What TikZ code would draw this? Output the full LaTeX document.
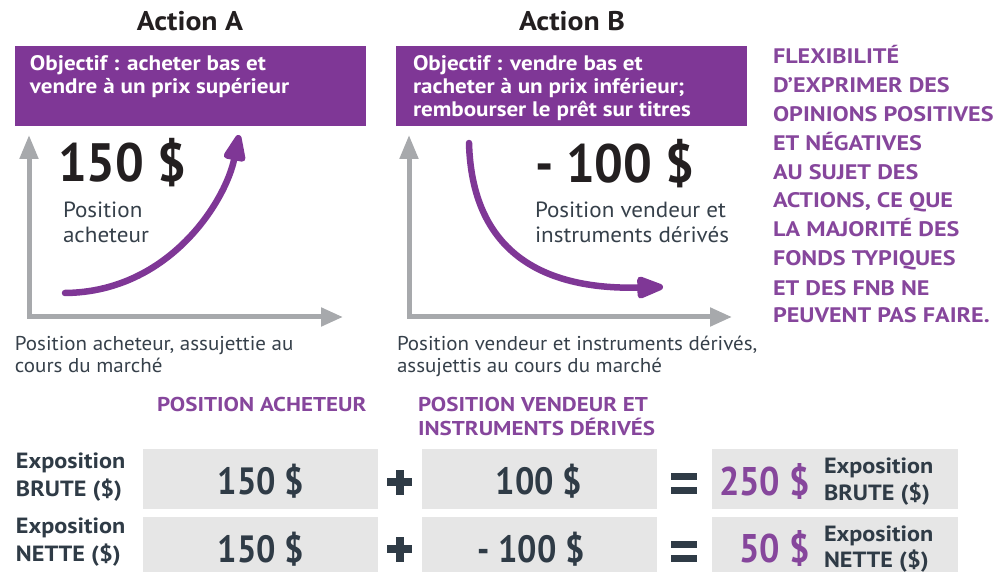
\documentclass[tikz,border=0pt]{standalone}
\usepackage{fontspec}
\setmainfont{PT Sans}
\newfontfamily\sA[FakeStretch=0.90]{PT Sans}
\newfontfamily\sB[FakeStretch=0.94]{PT Sans}
\newfontfamily\sC[FakeStretch=1.05]{PT Sans}
\newfontfamily\sD[FakeStretch=1.10]{PT Sans}
\newfontfamily\sE[FakeStretch=1.15]{PT Sans}
\usetikzlibrary{arrows.meta}
\definecolor{purp}{HTML}{7F3796}
\definecolor{purtxt}{HTML}{86469C}
\definecolor{axisgray}{HTML}{A7A9AC}
\definecolor{boxgray}{HTML}{E6E6E6}
\definecolor{slate}{HTML}{2F3B46}
\definecolor{ink}{HTML}{231F20}
\definecolor{txt}{HTML}{36404A}
\begin{document}
\begin{tikzpicture}[x=1pt,y=-1pt,
  lbl/.style={anchor=base west, inner sep=0pt, outer sep=0pt},
  title/.style={anchor=base, inner sep=0pt, text=ink, font=\sD\bfseries\fontsize{27}{30}\selectfont},
  boxtxt/.style={lbl, text=white, font=\sD\bfseries\fontsize{21}{24}\selectfont},
  bignum/.style={lbl, text=ink, font=\sB\bfseries\fontsize{54}{60}\selectfont},
  postxt/.style={lbl, text=txt, font=\sC\fontsize{22}{26}\selectfont},
  captxt/.style={lbl, text=txt, font=\sC\fontsize{20}{24}\selectfont},
  flextxt/.style={lbl, text=purtxt, font=\sE\bfseries\fontsize{21}{24}\selectfont},
  headtxt/.style={lbl, text=purtxt, font=\sE\bfseries\fontsize{20}{24}\selectfont},
  rowtxt/.style={lbl, text=slate, font=\sD\bfseries\fontsize{22}{24}\selectfont},
  cellnum/.style={anchor=base, inner sep=0pt, text=slate, font=\sA\bfseries\fontsize{38}{42}\selectfont},
  resnum/.style={anchor=base east, inner sep=0pt, text=purtxt, font=\sA\bfseries\fontsize{40}{44}\selectfont},
  purplebox/.style={anchor=north west, fill=purp, inner sep=0pt, minimum height=80pt},
  graybox/.style={anchor=north west, fill=boxgray, inner sep=0pt},
  axis/.style={draw=axisgray, line width=5pt, {Triangle[length=24pt,width=18pt]}-{Triangle[length=22pt,width=18pt]}},
  trend/.style={draw=purp, line width=6.5pt, line cap=round, -{Triangle[length=32pt,width=23pt,round=false]}},
  opbar/.style={fill=slate}
]
\useasboundingbox (0,0) rectangle (994,572);

% titles
\node[title] (titleA) at (190,31) {Action A};
\node[title] (titleB) at (572,31) {Action B};

% purple boxes
\node[purplebox, minimum width=351pt] (boxA) at (15,46) {};
\node[purplebox, minimum width=351pt] (boxB) at (396,46) {};
\node[boxtxt] (bA1) at (30,71) {Objectif : acheter bas et};
\node[boxtxt] (bA2) at (30,94) {vendre à un prix supérieur};
\node[boxtxt] (bB1) at (413,71) {Objectif : vendre bas et};
\node[boxtxt] (bB2) at (413,94) {racheter à un prix inférieur;};
\node[boxtxt] (bB3) at (413,117) {rembourser le prêt sur titres};

% axes
\coordinate (aTop) at (29,135);
\coordinate (aCorner) at (29,317);
\coordinate (aRight) at (343,317);
\coordinate (bTop) at (409,135);
\coordinate (bCorner) at (409,317);
\coordinate (bRight) at (732,317);
\draw[axis] (aTop) -- (aCorner) -- (aRight);
\draw[axis] (bTop) -- (bCorner) -- (bRight);

% trend curves
\coordinate (cAs) at (65,293);
\coordinate (cAe) at (239,135);
\coordinate (cBs) at (469,143);
\coordinate (cBe) at (663,287);
\draw[trend] (cAs) .. controls (170,292) and (226,200) .. (cAe);
\draw[trend] (cBs) .. controls (472,250) and (540,290) .. (cBe);

% big numbers and labels
\node[bignum] (numA) at (58,182) {150 \$};
\node[bignum] (numB) at (535,183) {- 100 \$};
\node[postxt] (pA1) at (63,218) {Position};
\node[postxt] (pA2) at (63,243) {acheteur};
\node[postxt] (pB1) at (535,218) {Position vendeur et};
\node[postxt] (pB2) at (535,243) {instruments dérivés};

% captions
\node[captxt] (capA1) at (15,350) {Position acheteur, assujettie au};
\node[captxt] (capA2) at (15,372) {cours du marché};
\node[captxt] (capB1) at (397,350) {Position vendeur et instruments dérivés,};
\node[captxt] (capB2) at (397,372) {assujettis au cours du marché};

% right text
\node[flextxt] (f1) at (773,64) {FLEXIBILITÉ};
\node[flextxt] (f2) at (773,93) {D’EXPRIMER DES};
\node[flextxt] (f3) at (773,122) {OPINIONS POSITIVES};
\node[flextxt] (f4) at (773,151) {ET NÉGATIVES};
\node[flextxt] (f5) at (773,180) {AU SUJET DES};
\node[flextxt] (f6) at (773,208) {ACTIONS, CE QUE};
\node[flextxt] (f7) at (773,237) {LA MAJORITÉ DES};
\node[flextxt] (f8) at (773,266) {FONDS TYPIQUES};
\node[flextxt] (f9) at (773,295) {ET DES FNB NE};
\node[flextxt] (f10) at (773,323) {PEUVENT PAS FAIRE.};

% table headers
\node[headtxt] (h1) at (157,411) {POSITION ACHETEUR};
\node[headtxt] (h2a) at (418,411) {POSITION VENDEUR ET};
\node[headtxt] (h2b) at (418,435) {INSTRUMENTS DÉRIVÉS};

% table boxes
\node[graybox, minimum width=235pt, minimum height=60pt] (g11) at (143,449) {};
\node[graybox, minimum width=235pt, minimum height=60pt] (g12) at (422,449) {};
\node[graybox, minimum width=246pt, minimum height=60pt] (g13) at (712,449) {};
\node[graybox, minimum width=235pt, minimum height=55pt] (g21) at (143,517) {};
\node[graybox, minimum width=235pt, minimum height=55pt] (g22) at (422,517) {};
\node[graybox, minimum width=246pt, minimum height=55pt] (g23) at (712,517) {};

% row labels
\node[rowtxt] (r1a) at (16,468) {Exposition};
\node[rowtxt] (r1b) at (16,496) {BRUTE (\$)};
\node[rowtxt] (r2a) at (16,533) {Exposition};
\node[rowtxt] (r2b) at (16,561) {NETTE (\$)};

% cell numbers
\node[cellnum] (n11) at (261,494) {150 \$};
\node[cellnum] (n12) at (539,494) {100 \$};
\node[cellnum] (n21) at (261,562) {150 \$};
\node[cellnum] (n22) at (531,562) {- 100 \$};

% operators
\fill[opbar] (387,478) rectangle (412,486);
\fill[opbar] (395.5,470) rectangle (403.5,495);
\fill[opbar] (387,545) rectangle (412,553);
\fill[opbar] (395.5,537) rectangle (403.5,562);
\fill[opbar] (671,473) rectangle (697,480);
\fill[opbar] (671,487) rectangle (697,494);
\fill[opbar] (671,541) rectangle (697,548);
\fill[opbar] (671,555) rectangle (697,562);

% results
\node[resnum] (res1) at (810,495) {250 \$};
\node[resnum] (res2) at (810,562) {50 \$};
\node[rowtxt] (e1a) at (824,473) {Exposition};
\node[rowtxt] (e1b) at (824,500) {BRUTE (\$)};
\node[rowtxt] (e2a) at (824,541) {Exposition};
\node[rowtxt] (e2b) at (824,567) {NETTE (\$)};
\end{tikzpicture}
\end{document}
